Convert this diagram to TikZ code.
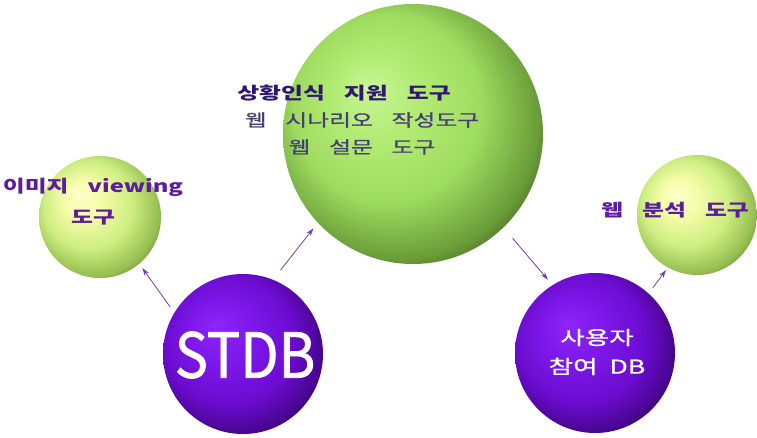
\documentclass[tikz,border=0pt]{standalone}
\usepackage{fontspec}
\setmainfont{Noto Sans CJK KR}[FakeStretch=1.4,WordSpace=3.5]
\newfontfamily\logofont{Noto Sans CJK KR}[FakeStretch=0.9,FakeBold=1.2]
\newfontfamily\dbfont{Noto Sans CJK KR}[FakeStretch=1.4,WordSpace=2,FakeBold=1]
\usetikzlibrary{arrows.meta}

\definecolor{gb0}{RGB}{200,246,150}
\definecolor{gb1}{RGB}{178,236,116}
\definecolor{gb2}{RGB}{158,220,96}
\definecolor{gb3}{RGB}{106,156,56}
\definecolor{gb4}{RGB}{40,60,15}
\definecolor{gb5}{RGB}{18,28,6}
\definecolor{yb0}{RGB}{255,255,200}
\definecolor{yb1}{RGB}{244,252,168}
\definecolor{yb2}{RGB}{206,238,130}
\definecolor{yb3}{RGB}{150,190,80}
\definecolor{yb4}{RGB}{60,82,20}
\definecolor{yb5}{RGB}{25,35,10}
\definecolor{pb0}{RGB}{142,36,248}
\definecolor{pb1}{RGB}{124,24,234}
\definecolor{pb2}{RGB}{108,12,208}
\definecolor{pb3}{RGB}{70,5,140}
\definecolor{pb4}{RGB}{26,0,52}
\definecolor{pb5}{RGB}{10,0,20}
\definecolor{linkc}{RGB}{112,62,172}
\definecolor{toolink}{RGB}{92,28,156}
\definecolor{titleink}{RGB}{48,22,112}
\definecolor{subink}{RGB}{72,62,118}

\pgfdeclareradialshading{greenball}{\pgfpoint{-9bp}{9bp}}{%
  color(0bp)=(gb0); color(8bp)=(gb1); color(18bp)=(gb2);
  color(27bp)=(gb3); color(34bp)=(gb4); color(40bp)=(gb5)}
\pgfdeclareradialshading{yellowball}{\pgfpoint{-9bp}{9bp}}{%
  color(0bp)=(yb0); color(8bp)=(yb1); color(18bp)=(yb2);
  color(27bp)=(yb3); color(34bp)=(yb4); color(40bp)=(yb5)}
\pgfdeclareradialshading{purpleball}{\pgfpoint{-9bp}{9bp}}{%
  color(0bp)=(pb0); color(10bp)=(pb1); color(20bp)=(pb2);
  color(28bp)=(pb3); color(35bp)=(pb4); color(40bp)=(pb5)}

\tikzset{
  sphere/.style={circle, inner sep=0pt, shade, minimum size=#1},
  link/.style={draw=linkc, line width=0.8pt, -{Stealth[length=8pt,width=5pt]}},
  tooltext/.style={font=\bfseries\fontsize{17}{31}\selectfont, align=center, inner sep=0pt},
  subtext/.style={font=\fontsize{17}{27}\selectfont\addfontfeature{FakeBold=0.8}, text=subink, inner sep=0pt},
}

\begin{document}
\begin{tikzpicture}[x=1pt, y=1pt]
    \useasboundingbox (0,0) rectangle (757,-438);

    % the five balls
    \node[sphere=260pt, shading=greenball] (scenario) at (413,-134) {};
    \node[sphere=122pt, shading=yellowball] (imgtool) at (100,-217) {};
    \node[sphere=120pt, shading=yellowball] (webtool) at (697,-215) {};
    \node[sphere=160pt, shading=purpleball] (stdb) at (243,-354) {};
    \node[sphere=160pt, shading=purpleball] (userdb) at (595,-353) {};

    \draw[link, shorten <=7pt, shorten >=5pt] (stdb.149) -- (imgtool.-50);
    \draw[link, shorten <=12pt, shorten >=7pt] (stdb.68) -- (scenario.223);
    \draw[link, shorten <=14pt, shorten >=7pt] (scenario.-46) -- (userdb.122);
    \draw[link, shorten <=7pt, shorten >=3pt] (userdb.48) -- (webtool.241);

    \node[tooltext, text=toolink] (imgtext) at (93,-202) {이미지 viewing\\도구};
    \node[tooltext, text=titleink] (ctxtext) at (344,-93) {상황인식 지원 도구};
    \node[subtext] (scntext) at (362,-120) {웹 시나리오 작성도구};
    \node[subtext] (srvtext) at (362,-147) {웹 설문 도구};
    \node[tooltext, text=toolink] (anltext) at (675,-210) {웹 분석 도구};

    \node[text=white, font=\logofont\fontsize{62}{62}\selectfont] (stdbtext) at (245,-355) {STDB};
    \node[text=white, align=center, inner sep=0pt,
          font=\dbfont\fontsize{19}{29}\selectfont] (usertext) at (597,-352) {사용자\\참여 DB};
\end{tikzpicture}
\end{document}
